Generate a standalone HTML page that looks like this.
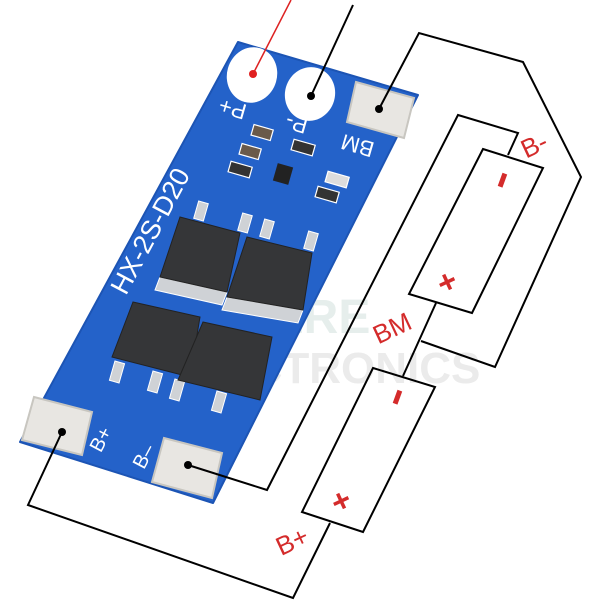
<!DOCTYPE html>
<html><head><meta charset="utf-8"><style>html,body{margin:0;padding:0;background:#fff}svg{display:block}</style></head>
<body>
<svg width="600" height="600" viewBox="0 0 600 600" xmlns="http://www.w3.org/2000/svg" font-family="Liberation Sans, sans-serif">
<rect width="600" height="600" fill="#fff"/>
<!-- watermark -->
<g font-weight="bold">
<text x="165" y="333" font-size="48" fill="#e6eeec">AMPERE</text>
<text x="165" y="383" font-size="44" fill="#ebebeb">ELECTRONICS</text>
</g>
<!-- board -->
<polygon points="238,42 418,95 213,503 20,442" fill="#2462c9" stroke="#1c54b4" stroke-width="2" stroke-linejoin="round"/>
<!-- pads top -->
<ellipse cx="252" cy="75" rx="25" ry="28" transform="rotate(16 252 75)" fill="#fff"/>
<ellipse cx="310" cy="94" rx="25" ry="27" transform="rotate(16 310 94)" fill="#fff"/>
<polygon points="356,82 414,98 404,138 347,122" fill="#e8e6e2" stroke="#c8c6c0" stroke-width="2"/>
<!-- pad labels (upside-down) -->
<g fill="#fff" font-size="22">
<text transform="translate(233,107) rotate(196)" text-anchor="middle" dominant-baseline="middle">P+</text>
<text transform="translate(297,122) rotate(196)" text-anchor="middle" dominant-baseline="middle">P-</text>
<text transform="translate(358,144) rotate(196)" text-anchor="middle" dominant-baseline="middle">BM</text>
<text transform="translate(152,232) rotate(-62)" text-anchor="middle" dominant-baseline="middle" font-size="27">HX-2S-D20</text>
<text transform="translate(102,440) rotate(-62)" text-anchor="middle" dominant-baseline="middle" font-size="20">B+</text>
<text transform="translate(145,457) rotate(-62)" text-anchor="middle" dominant-baseline="middle" font-size="20">B–</text>
</g>
<!-- small SMD parts -->
<g stroke="#fff" stroke-width="1.2" fill="#2b4a7a">
<rect x="252" y="127" width="20" height="11" transform="rotate(16 262 133)" fill="#6a5a4a"/>
<rect x="240" y="146" width="20" height="11" transform="rotate(16 250 152)" fill="#6a5a4a"/>
<rect x="229" y="164" width="22" height="11" transform="rotate(16 240 170)" fill="#333"/>
<rect x="292" y="142" width="22" height="11" transform="rotate(16 303 148)" fill="#333"/>
<rect x="326" y="174" width="22" height="11" transform="rotate(16 337 180)" fill="#ddd"/>
<rect x="316" y="189" width="22" height="11" transform="rotate(16 327 195)" fill="#333"/>
</g>
<rect x="275" y="165" width="16" height="18" transform="rotate(16 283 174)" fill="#222"/>
<!-- mosfets tabs & pins -->
<g fill="#cfd2d6" stroke="#fff" stroke-width="1">
<polygon points="160,277 227,292 222,305 155,290"/>
<polygon points="227,297 303,310 298,323 222,310"/>
<rect x="196" y="202" width="10" height="18" transform="rotate(16 201 211)"/>
<rect x="240" y="214" width="10" height="18" transform="rotate(16 245 223)"/>
<rect x="262" y="220" width="10" height="18" transform="rotate(16 267 229)"/>
<rect x="306" y="232" width="10" height="18" transform="rotate(16 311 241)"/>
<rect x="112" y="362" width="10" height="20" transform="rotate(16 117 372)"/>
<rect x="150" y="372" width="10" height="20" transform="rotate(16 155 382)"/>
<rect x="172" y="380" width="10" height="20" transform="rotate(16 177 390)"/>
<rect x="214" y="392" width="10" height="20" transform="rotate(16 219 402)"/>
</g>
<g fill="#353638" stroke="#222" stroke-width="1">
<polygon points="180,217 240,233 227,292 160,277"/>
<polygon points="247,237 312,253 303,310 227,297"/>
<polygon points="133,302 200,317 190,377 112,357"/>
<polygon points="203,322 272,337 260,400 178,380"/>
</g>
<!-- bottom pads -->
<polygon points="34,397 92,412 82,455 22,440" fill="#e8e6e2" stroke="#c8c6c0" stroke-width="2"/>
<polygon points="164,438 222,453 212,498 152,482" fill="#e8e6e2" stroke="#c8c6c0" stroke-width="2"/>
<!-- wires -->
<g fill="none" stroke="#000" stroke-width="2">
<line x1="353" y1="5" x2="311" y2="96"/>
<polyline points="379,109 419,33 523,62 581,177 495,367 421,341"/>
<polyline points="188,465 267,490 458,115 518,133 508,155"/>
<polygon points="483,149 543,168 472,313 409,294"/>
<polyline points="436,303 403,376"/>
<polygon points="373,368 435,387 363,532 302,512"/>
<polyline points="62,432 28,505 293,598 330,523"/>
</g>
<line x1="291" y1="0" x2="253" y2="74" stroke="#d22" stroke-width="1.5"/>
<circle cx="253" cy="74" r="4" fill="#e02020"/>
<circle cx="311" cy="96" r="4" fill="#000"/>
<circle cx="379" cy="109" r="4" fill="#000"/>
<circle cx="62" cy="432" r="4" fill="#000"/>
<circle cx="188" cy="465" r="4" fill="#000"/>
<!-- red labels -->
<g fill="#d42b2b" font-size="26">
<text transform="translate(535,147) rotate(-25)" text-anchor="middle" dominant-baseline="middle">B-</text>
<text transform="translate(393,330) rotate(-25)" text-anchor="middle" dominant-baseline="middle">BM</text>
<text transform="translate(293,543) rotate(-25)" text-anchor="middle" dominant-baseline="middle">B+</text>
<rect x="500" y="173" width="5" height="14" transform="rotate(20 502 180)"/>
<rect x="395" y="390" width="5" height="14" transform="rotate(20 397 397)"/>
<text transform="translate(448,284) rotate(-25)" text-anchor="middle" dominant-baseline="middle" font-weight="bold" font-size="32">+</text>
<text transform="translate(342,503) rotate(-25)" text-anchor="middle" dominant-baseline="middle" font-weight="bold" font-size="32">+</text>
</g>
</svg>
</body></html>
